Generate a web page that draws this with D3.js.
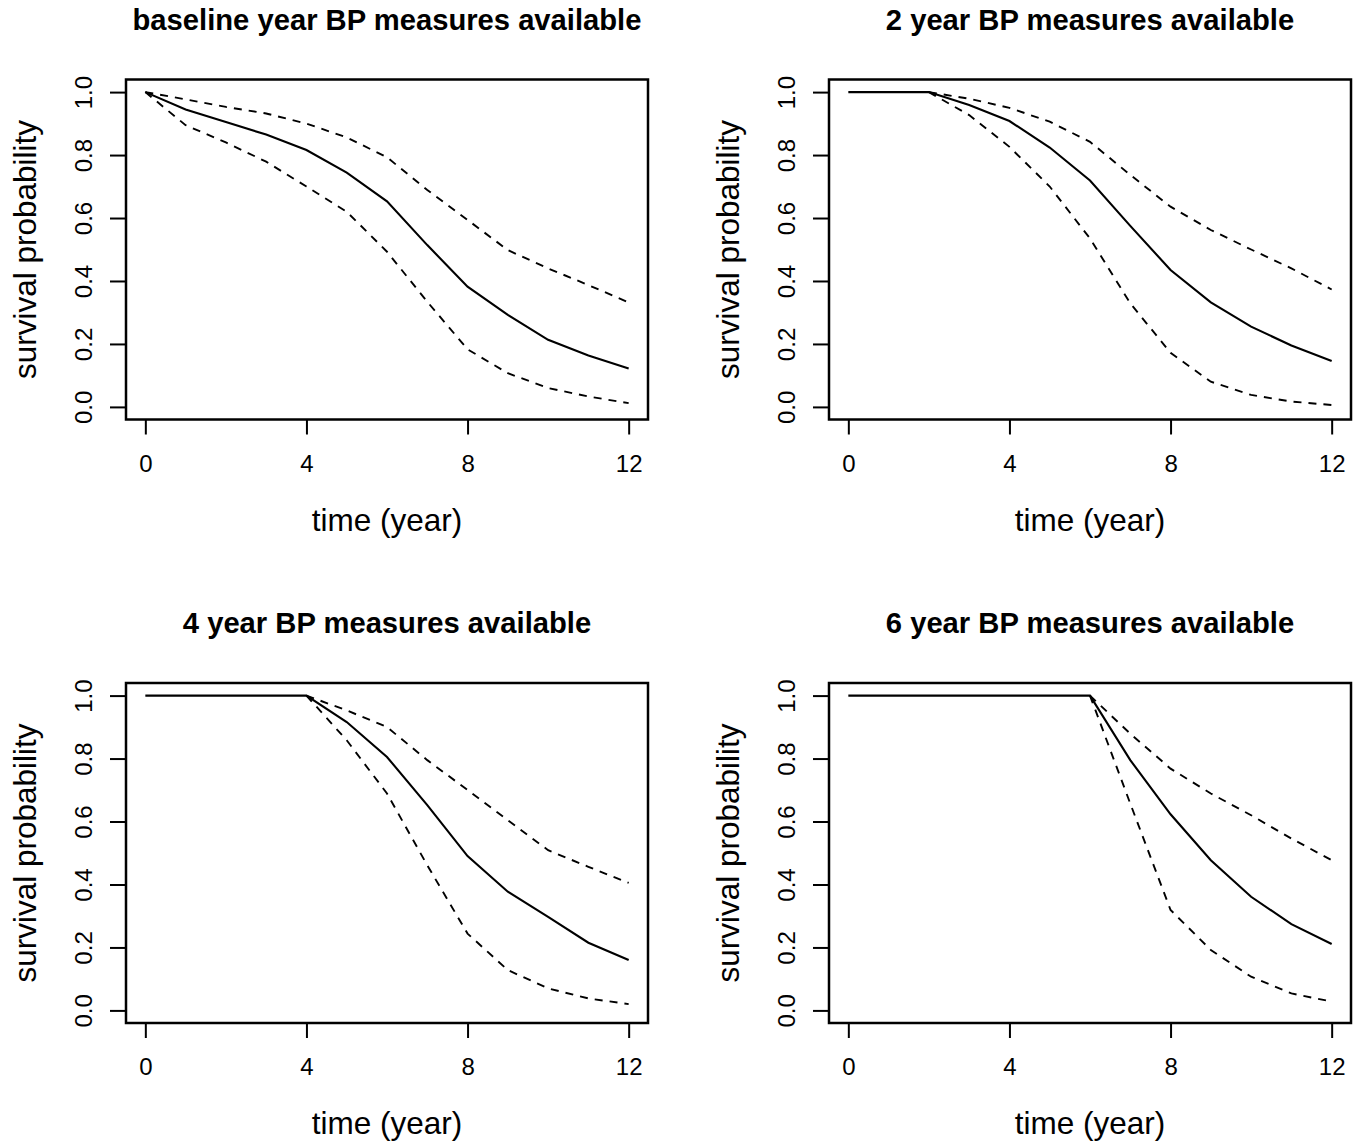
<!DOCTYPE html>
<meta charset="utf-8" />
<html>
    <head>
        <script src="https://d3js.org/d3.v7.min.js"></script>
        <style>
            body { margin: 0; background: white; }
            text { font-family: "Liberation Sans", Arial, Helvetica, sans-serif; fill: black; }
        </style>
    </head>
    <body>
        <svg id="chart" width="1363" height="1142"></svg>
    </body>
    <script>
        // Chart data
        var years = [0, 1, 2, 3, 4, 5, 6, 7, 8, 9, 10, 11, 12];
        var xTicks = [0, 4, 8, 12];
        var yTicks = [0, 0.2, 0.4, 0.6, 0.8, 1.0];
        var panelTitles = [
            "baseline year BP measures available",
            "2 year BP measures available",
            "4 year BP measures available",
            "6 year BP measures available"
        ];
        var landmarks = [0, 2, 4, 6];

        // survival estimate (solid) per panel
        var est0 = [1.0, 0.945, 0.905, 0.865, 0.816, 0.744, 0.653, 0.514, 0.382, 0.292, 0.213, 0.163, 0.122];
        var est2 = [1.0, 1.0, 1.0, 0.959, 0.908, 0.824, 0.719, 0.575, 0.435, 0.332, 0.255, 0.195, 0.146];
        var est4 = [1.0, 1.0, 1.0, 1.0, 1.0, 0.916, 0.805, 0.652, 0.49, 0.377, 0.297, 0.215, 0.16];
        var est6 = [1.0, 1.0, 1.0, 1.0, 1.0, 1.0, 1.0, 0.795, 0.623, 0.477, 0.361, 0.274, 0.211];

        // upper confidence band (dashed); null before landmark
        var upper0 = [1.0, 0.977, 0.953, 0.932, 0.90, 0.856, 0.793, 0.689, 0.594, 0.498, 0.44, 0.387, 0.332];
        var upper2 = [null, null, 1.0, 0.979, 0.95, 0.906, 0.842, 0.737, 0.636, 0.562, 0.50, 0.44, 0.373];
        var upper4 = [null, null, null, null, 1.0, 0.953, 0.90, 0.795, 0.70, 0.604, 0.509, 0.456, 0.405];
        var upper6 = [null, null, null, null, null, null, 1.0, 0.879, 0.768, 0.689, 0.62, 0.546, 0.477];

        // lower confidence band (dashed)
        var lower0 = [1.0, 0.895, 0.84, 0.779, 0.70, 0.62, 0.493, 0.334, 0.183, 0.107, 0.06, 0.033, 0.012];
        var lower2 = [null, null, 1.0, 0.927, 0.826, 0.70, 0.535, 0.329, 0.172, 0.08, 0.038, 0.017, 0.006];
        var lower4 = [null, null, null, null, 1.0, 0.858, 0.689, 0.461, 0.244, 0.128, 0.07, 0.038, 0.02];
        var lower6 = [null, null, null, null, null, null, 1.0, 0.657, 0.319, 0.192, 0.107, 0.054, 0.028];

        var estimates = [est0, est2, est4, est6];
        var uppers = [upper0, upper2, upper4, upper6];
        var lowers = [lower0, lower2, lower4, lower6];

        // Layout
        var svg = d3.select("#chart");
        var box = {left: 126, top: 79.5, width: 522, height: 340};
        var colStep = 703, rowStep = 603.5;

        function drawPanel(i) {
            var dx = (i % 2) * colStep;
            var dy = Math.floor(i / 2) * rowStep;
            var g = svg.append("g").attr("transform", "translate(" + (box.left + dx) + "," + (box.top + dy) + ")");

            // R style 4% padding on both axes
            var x = d3.scaleLinear().domain([-0.48, 12.48]).range([0, box.width]);
            var y = d3.scaleLinear().domain([-0.04, 1.04]).range([box.height, 0]);

            var xAxis = g.append("g")
                .attr("transform", "translate(0," + box.height + ")")
                .call(d3.axisBottom(x).tickValues(xTicks).tickFormat(d3.format("d")).tickSize(15).tickSizeOuter(0));
            xAxis.select(".domain").remove();
            xAxis.selectAll("line").attr("stroke", "black").attr("stroke-width", 2);
            xAxis.selectAll("text").attr("y", 52).attr("dy", null)
                .attr("font-size", 24).attr("font-family", null).attr("fill", "black");

            var yAxis = g.append("g")
                .call(d3.axisLeft(y).tickValues(yTicks).tickFormat(d3.format(".1f")).tickSize(16).tickSizeOuter(0));
            yAxis.select(".domain").remove();
            yAxis.selectAll("line").attr("stroke", "black").attr("stroke-width", 2);
            yAxis.selectAll("text").attr("x", null).attr("dy", null)
                .attr("transform", "translate(-34,0) rotate(-90)")
                .attr("text-anchor", "middle")
                .attr("font-size", 24).attr("font-family", null).attr("fill", "black");

            var solid = d3.line()
                .x(function(d, j) { return x(years[j]); })
                .y(function(d) { return y(d); });
            var dashed = d3.line()
                .defined(function(d) { return d !== null; })
                .x(function(d, j) { return x(years[j]); })
                .y(function(d) { return y(d); });

            g.append("path").datum(uppers[i]).attr("d", dashed)
                .attr("fill", "none").attr("stroke", "black").attr("stroke-width", 1.9).attr("stroke-dasharray", "8,7");
            g.append("path").datum(lowers[i]).attr("d", dashed)
                .attr("fill", "none").attr("stroke", "black").attr("stroke-width", 1.9).attr("stroke-dasharray", "8,7");
            g.append("path").datum(estimates[i]).attr("d", solid)
                .attr("fill", "none").attr("stroke", "black").attr("stroke-width", 2.1);

            // plot box
            g.append("rect").attr("x", 0).attr("y", 0).attr("width", box.width).attr("height", box.height)
                .attr("fill", "none").attr("stroke", "black").attr("stroke-width", 2.5);

            // labels
            g.append("text").attr("x", box.width / 2).attr("y", -50)
                .attr("text-anchor", "middle").attr("font-size", 29.2).attr("font-weight", "bold")
                .text(panelTitles[i]);
            g.append("text").attr("x", box.width / 2).attr("y", 451)
                .attr("text-anchor", "middle").attr("font-size", 31.5)
                .text("time (year)");
            g.append("text")
                .attr("transform", "translate(-90," + (box.height / 2) + ") rotate(-90)")
                .attr("text-anchor", "middle").attr("font-size", 31.5)
                .text("survival probability");
        }

        for (var i = 0; i < 4; i++) { drawPanel(i); }
    </script>
</html>
